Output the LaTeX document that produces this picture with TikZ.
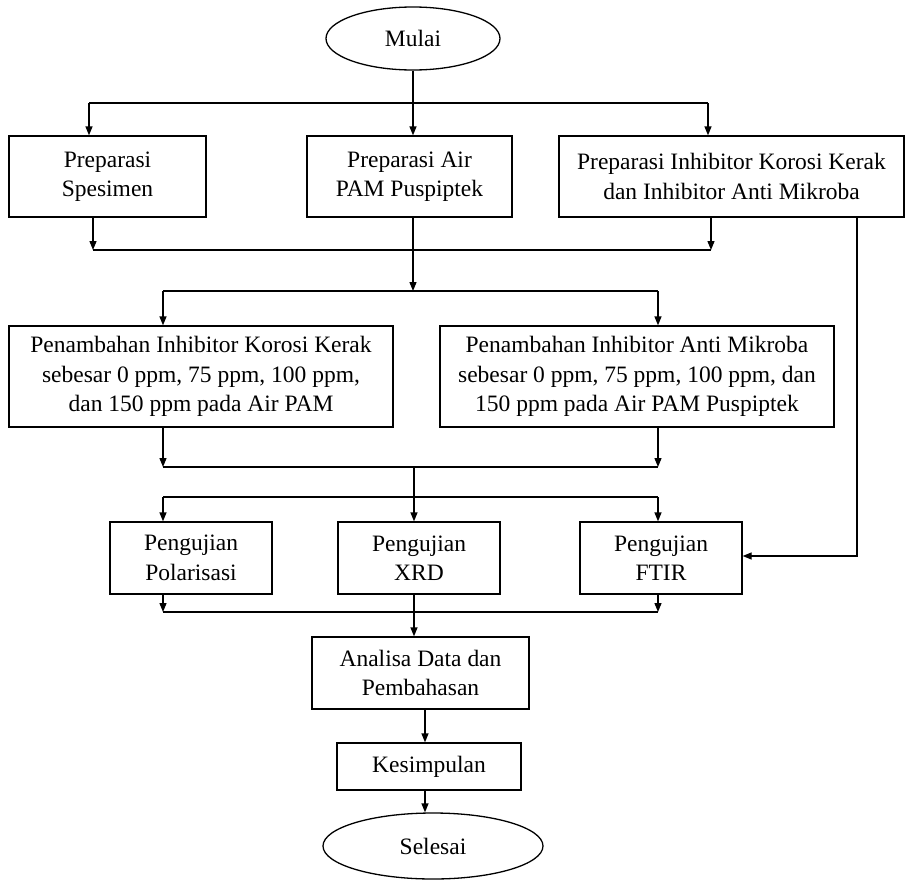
\documentclass[tikz,border=0pt]{standalone}
\usepackage{fontspec}
\setmainfont{Liberation Serif}
\usetikzlibrary{arrows.meta,shapes.geometric}
\begin{document}
\begin{tikzpicture}[x=1pt,y=-1pt,
  every node/.style={font=\fontsize{23.5}{29.5}\selectfont, align=center, inner sep=2pt},
  box/.style={draw, line width=1.3pt, rectangle},
  term/.style={draw, line width=1.3pt, ellipse, inner sep=0pt},
  ln/.style={line width=1.3pt},
  arr/.style={line width=1.3pt, -{Triangle[length=9pt,width=7pt]}}]
\useasboundingbox (0,0) rectangle (908,881);

% nodes
\node[term, minimum width=174pt, minimum height=63pt] (mulai) at (413,38.5) {Mulai};
\node[box, minimum width=197pt, minimum height=81pt] (box1) at (107.5,176.5) {Preparasi\\Spesimen};
\node[box, minimum width=205pt, minimum height=81pt] (box2) at (409.5,176.5) {Preparasi Air\\PAM Puspiptek};
\node[box, minimum width=345pt, minimum height=81pt] (box3) at (731.5,176.5) {Preparasi Inhibitor Korosi Kerak\\dan Inhibitor Anti Mikroba};
\node[box, minimum width=384pt, minimum height=101pt] (box4) at (201,376.5) {Penambahan Inhibitor Korosi Kerak\\sebesar 0 ppm, 75 ppm, 100 ppm,\\dan 150 ppm pada Air PAM};
\node[box, minimum width=394pt, minimum height=101pt] (box5) at (637,376.5) {Penambahan Inhibitor Anti Mikroba\\sebesar 0 ppm, 75 ppm, 100 ppm, dan\\150 ppm pada Air PAM Puspiptek};
\node[box, minimum width=162pt, minimum height=72pt] (box6) at (191,558) {Pengujian\\Polarisasi};
\node[box, minimum width=162pt, minimum height=72pt] (box7) at (419,558) {Pengujian\\XRD};
\node[box, minimum width=162pt, minimum height=72pt] (box8) at (661,558) {Pengujian\\FTIR};
\node[box, minimum width=217pt, minimum height=72pt] (box9) at (420.5,673) {Analisa Data dan\\Pembahasan};
\node[box, minimum width=184pt, minimum height=47pt] (box10) at (429,766.5) {Kesimpulan};
\node[term, minimum width=220pt, minimum height=66pt] (selesai) at (433,846) {Selesai};

% junction coordinates
\coordinate (j1L) at (89,103);
\coordinate (j1R) at (708,103);
\coordinate (j2L) at (93,250);
\coordinate (j2R) at (711,250);
\coordinate (j3L) at (163,291);
\coordinate (j3M) at (413,291);
\coordinate (j3R) at (658,291);
\coordinate (j4L) at (163,467);
\coordinate (j4M) at (414,467);
\coordinate (j4R) at (658,467);
\coordinate (j5L) at (163,497);
\coordinate (j5R) at (658,497);
\coordinate (j6L) at (163,612);
\coordinate (j6M) at (414,612);
\coordinate (j6R) at (658,612);
\coordinate (rc) at (857,556);
\coordinate (k) at (425,700);

% top branch
\draw[arr] (mulai.south) -- (mulai.south |- box2.north);
\draw[ln] (j1L) -- (j1R);
\draw[arr] (j1L) -- (j1L |- box1.north);
\draw[arr] (j1R) -- (j1R |- box3.north);

% merge after preparation
\draw[arr] (j2L |- box1.south) -- (j2L);
\draw[arr] (j2R |- box3.south) -- (j2R);
\draw[ln] (j2L) -- (j2R);
\draw[arr] (box2.south -| j3M) -- (j3M);

% branch to additions
\draw[ln] (j3L) -- (j3R);
\draw[arr] (j3L) -- (j3L |- box4.north);
\draw[arr] (j3R) -- (j3R |- box5.north);

% merge after additions
\draw[arr] (j4L |- box4.south) -- (j4L);
\draw[arr] (j4R |- box5.south) -- (j4R);
\draw[ln] (j4L) -- (j4R);
\draw[arr] (j4M) -- (j4M |- box7.north);

% branch to tests
\draw[ln] (j5L) -- (j5R);
\draw[arr] (j5L) -- (j5L |- box6.north);
\draw[arr] (j5R) -- (j5R |- box8.north);

% right side path
\draw[arr] (rc |- box3.south) -- (rc) -- (rc -| box8.east);

% merge after tests
\draw[arr] (j6L |- box6.south) -- (j6L);
\draw[arr] (j6R |- box8.south) -- (j6R);
\draw[ln] (j6L) -- (j6R);
\draw[arr] (box7.south -| j6M) -- (j6M |- box9.north);

% bottom chain
\draw[arr] (box9.south -| k) -- (box10.north -| k);
\draw[arr] (box10.south -| k) -- (selesai.north -| k);
\end{tikzpicture}
\end{document}
